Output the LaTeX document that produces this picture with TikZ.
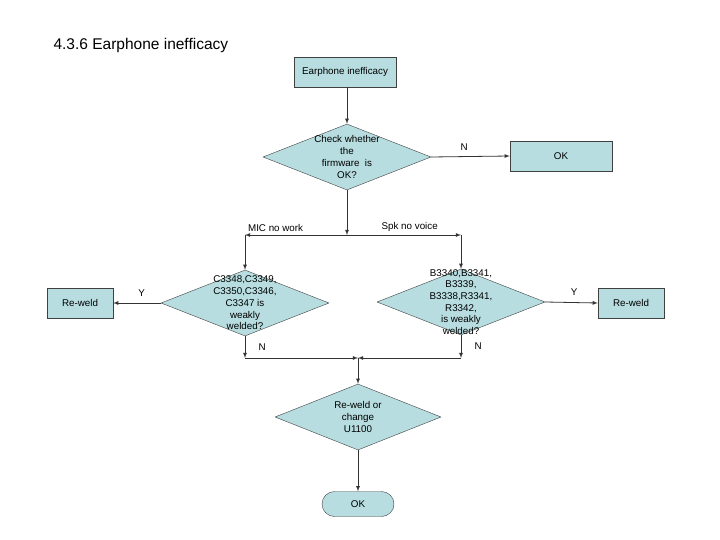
\documentclass[tikz,border=0pt]{standalone}
\usepackage{fontspec}
\setmainfont{Liberation Sans}
\usetikzlibrary{shapes,arrows}
\definecolor{boxfill}{RGB}{183,221,224}
\begin{document}
\begin{tikzpicture}[x=1pt,y=-1pt,
every node/.style={font=\fontsize{9.8}{11.7}\selectfont},
box/.style={draw=black!75,fill=boxfill,minimum width=102pt,
minimum height=30pt,inner sep=0pt},
smallbox/.style={box,minimum width=66pt},
decision/.style={diamond,draw=black!75,fill=boxfill,
minimum width=168pt,minimum height=66pt,inner sep=0pt},
doc/.style={align=center},
line/.style={draw=black!80,line width=0.8pt},
arr/.style={line,-latex}]
\useasboundingbox (0,0) rectangle (720,540);
\node[anchor=west,font=\fontsize{15.5}{18}\selectfont] (title) at (50,45)
  {4.3.6 Earphone inefficacy};
% nodes
\node[box] (start) at (345,72) {Earphone inefficacy};
\node[decision,label={[doc]center:Check whether\\the\\firmware\ \ is\\OK?}]
  (chk) at (347,157) {};
\node[box] (ok1) at (561,156) {OK};
\node[decision,label={[doc]center:{C3348,C3349,\\C3350,C3346,\\C3347 is\\weakly\\welded?}}]
  (mic) at (245,303) {};
\node[decision,label={[doc]center:{B3340,B3341,\\B3339,\\B3338,R3341,\\R3342,\\is weakly\\welded?}}]
  (spk) at (461,302) {};
\node[smallbox] (rw1) at (80,303) {Re-weld};
\node[smallbox] (rw2) at (631,303) {Re-weld};
\node[decision,minimum width=166pt,label={[doc]center:Re-weld or\\change\\U1100}]
  (weld) at (358,417) {};
\node[box,minimum width=72pt,minimum height=25pt,rounded corners=12.5pt]
  (ok2) at (358,504) {OK};
% junctions
\coordinate (split) at (347,235);
\coordinate (micc) at (245,235);
\coordinate (spkc) at (461,235);
\coordinate (micn) at (245,358);
\coordinate (spkn) at (461,358);
\coordinate (merge) at (358,358);
% connectors
\draw[arr] (start.south -| chk.north) -- (chk.north);
\draw[arr] (chk.east) -- node[above=2pt,pos=0.42] {N} (ok1.west);
\draw[arr] (chk.south) -- (split);
\draw[arr] (split) -- node[above=0pt,pos=0.7] {MIC no work} (micc);
\draw[arr] (split) -- node[above=0pt,pos=0.55] {Spk no voice} (spkc);
\draw[arr] (micc) -- (mic.north);
\draw[arr] (spkc) -- (spk.north);
\draw[arr] (mic.west) -- node[above=3pt,pos=0.4] {Y} (rw1.east);
\draw[arr] (spk.east) -- node[above=3pt,pos=0.55] {Y} (rw2.west);
\draw[arr] (mic.south) -- node[right=10pt] {N} (micn);
\draw[arr] (spk.south) -- node[right=10pt] {N} (spkn);
\draw[arr] (micn) -- (merge);
\draw[arr] (spkn) -- (merge);
\draw[arr] (merge) -- (weld.north);
\draw[arr] (weld.south) -- (ok2.north);
\end{tikzpicture}
\end{document}
